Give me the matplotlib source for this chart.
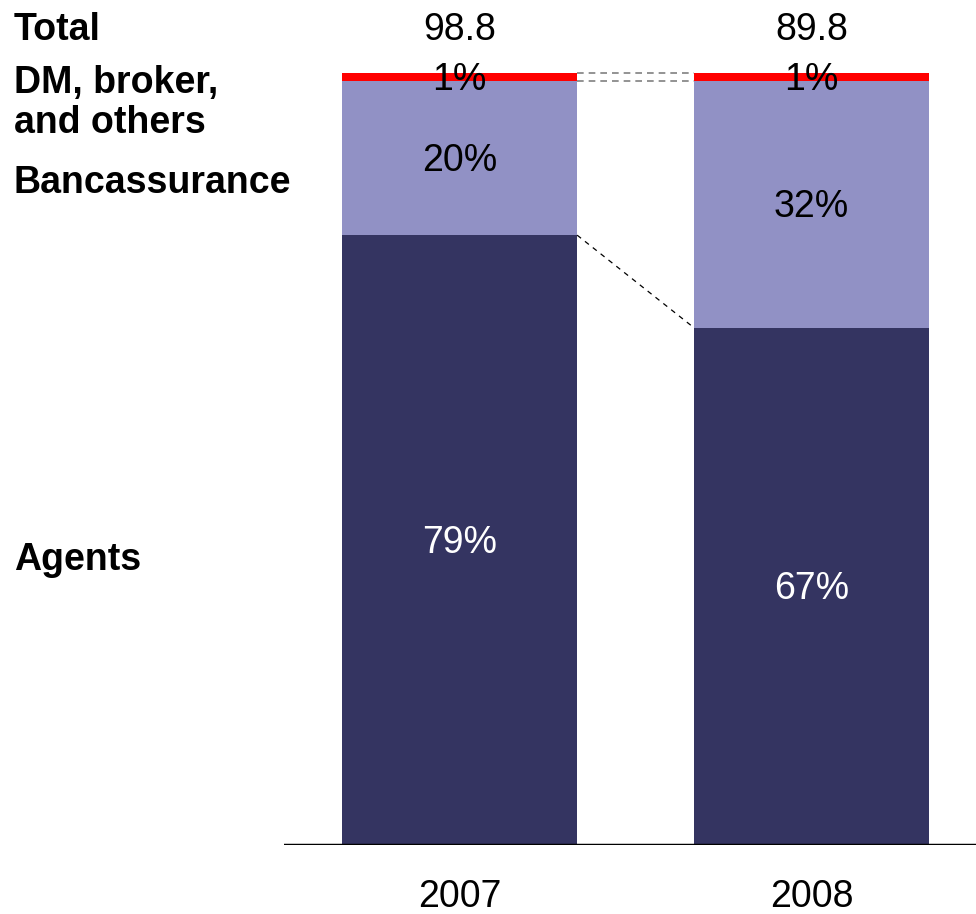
import numpy as np
import matplotlib.pyplot as plt

plt.rcParams['font.family'] = ['Liberation Sans', 'DejaVu Sans']

# channel mix per year, in % of total
years = ["2007", "2008"]
totals = ["98.8", "89.8"]
channels = ["Agents", "Bancassurance", "DM, broker,\nand others"]
agents = [79, 67]
bancassurance = [20, 32]
others = [1, 1]

colors = ["#343461", "#9191C5", "#FF0000"]
text_colors = ["white", "black", "black"]
fs = 27
dy = 0.4  # nudge labels down a little so the glyphs sit centred

fig = plt.figure(figsize=(9.76, 9.14), dpi=100)
ax = fig.add_axes([284 / 976, 69 / 914, 1 - 284 / 976, 1 - 69 / 914])

x = np.arange(len(years))
w = 0.668
bottom = np.zeros(len(years))
for vals, c, tc in zip([agents, bancassurance, others], colors, text_colors):
    vals = np.array(vals, dtype=float)
    ax.bar(x, vals, w, bottom=bottom, color=c, linewidth=0)
    for xi, v, b in zip(x, vals, bottom):
        ax.text(xi, b + v / 2 - dy, f"{v:.0f}%", ha="center", va="center",
                fontsize=fs, color=tc)
    bottom += vals

# connectors between the bars
ax.plot([x[0] + w / 2, x[1] - w / 2], [agents[0], agents[1]],
        ls=(0, (4, 4)), color="black", lw=0.9)
top_lower = [agents[i] + bancassurance[i] for i in range(2)]
ax.plot([x[0] + w / 2, x[1] - w / 2], [bottom[0], bottom[1]],
        ls=(0, (4, 3)), color="grey", lw=1.2)
ax.plot([x[0] + w / 2, x[1] - w / 2], top_lower,
        ls=(0, (4, 3)), color="grey", lw=1.2)

ax.axhline(0, color="black", lw=2.5)

for xi, t, yr in zip(x, totals, years):
    ax.text(xi, bottom[xi] + 6.0 - dy, t, ha="center", va="center", fontsize=fs)
    ax.text(xi, -6.7, yr, ha="center", va="center", fontsize=fs,
            clip_on=False)

ax.set_xlim(-0.4986, 1.467)
ax.set_ylim(0, 109.46)
ax.axis("off")

# row labels on the left
fig.text(14 / 976, 1 - 30 / 914, "Total", fontsize=fs, weight="bold",
         va="center")
fig.text(14 / 976, 1 - 103 / 914, channels[2], fontsize=fs, weight="bold",
         va="center", linespacing=1.17)
fig.text(14 / 976, 1 - 183 / 914, channels[1], fontsize=fs, weight="bold",
         va="center")
fig.text(14 / 976, 1 - 560 / 914, channels[0], fontsize=fs, weight="bold",
         va="center")

fig.savefig("out.png", dpi=100)
